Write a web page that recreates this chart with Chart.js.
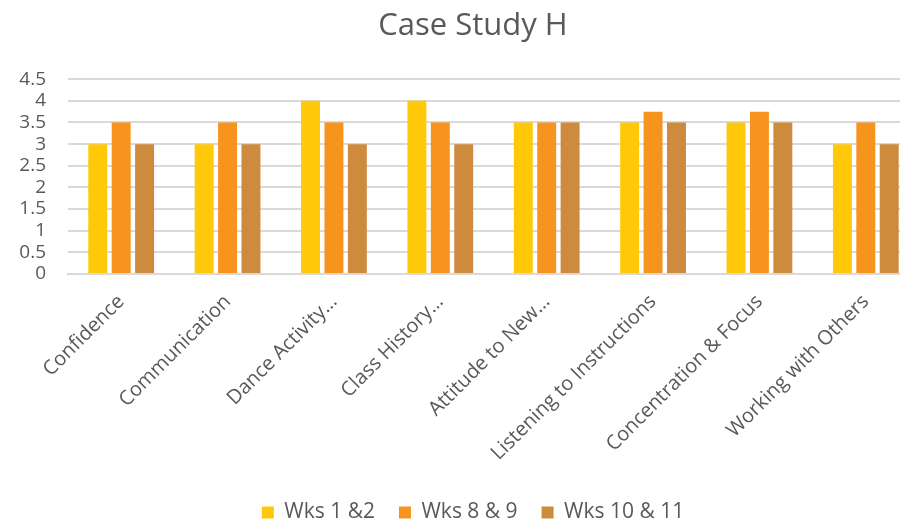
<!DOCTYPE html>
<html>
<head>
<meta charset="utf-8">
<title>Case Study H</title>
<script src="https://cdn.jsdelivr.net/npm/chart.js@4.4.1/dist/chart.umd.min.js"></script>
<style>
  html, body { margin: 0; padding: 0; background: #fff; overflow: hidden; }
  #wrap { width: 900px; height: 522px; overflow: hidden; position: relative; }
  canvas { display: block; }
</style>
</head>
<body>
<div id="wrap">
  <canvas id="chart" width="946" height="533"></canvas>
</div>
<script>
// categories and series
const categories = [
    'Confidence',
    'Communication',
    'Dance Activity\u2026',
    'Class History\u2026',
    'Attitude to New\u2026',
    'Listening to Instructions',
    'Concentration & Focus',
    'Working with Others'
];
const wks1and2 = [3, 3, 4, 4, 3.5, 3.5, 3.5, 3];
const wks8and9 = [3.5, 3.5, 3.5, 3.5, 3.5, 3.75, 3.75, 3.5];
const wks10and11 = [3, 3, 3, 3, 3.5, 3.5, 3.5, 3];
const seriesNames = ['Wks 1 &2', 'Wks 8 & 9', 'Wks 10 & 11'];
const yMax = 4.5;
const yStep = 0.5;

const textColor = '#595959';
const gridColor = '#d9d9d9';
const fontFamily = '"Open Sans", "DejaVu Sans", sans-serif';

const ctx = document.getElementById('chart').getContext('2d');

// the y labels sit partly in the left padding, so widen the axis clip box to the canvas edge
const widenYAxis = {
    id: 'widenYAxis',
    afterLayout(chart) {
        chart.scales.y.left = 0;
    }
};

new Chart(ctx, {
    type: 'bar',
    data: {
        labels: categories,
        datasets: [
            { label: seriesNames[0], data: wks1and2, backgroundColor: '#ffc90a' },
            { label: seriesNames[1], data: wks8and9, backgroundColor: '#f7941e' },
            { label: seriesNames[2], data: wks10and11, backgroundColor: '#ce8b3e' }
        ]
    },
    plugins: [widenYAxis],
    options: {
        responsive: false,
        animation: false,
        datasets: {
            bar: { categoryPercentage: 0.66, barPercentage: 0.81 }
        },
        layout: { padding: { left: 27, right: 27, top: 0, bottom: 0 } },
        plugins: {
            title: {
                display: true,
                text: 'Case Study H',
                color: textColor,
                font: { family: fontFamily, size: 31, weight: 'normal' },
                padding: { top: 8, bottom: 34 }
            },
            legend: {
                position: 'bottom',
                labels: {
                    color: textColor,
                    font: { family: fontFamily, size: 21 },
                    boxWidth: 12,
                    boxHeight: 12,
                    padding: 24
                }
            },
            tooltip: { enabled: false }
        },
        scales: {
            x: {
                grid: { display: false },
                border: { color: gridColor, width: 2 },
                ticks: {
                    color: textColor,
                    font: { family: fontFamily, size: 20 },
                    autoSkip: false,
                    maxRotation: 45,
                    minRotation: 45,
                    padding: 8
                },
                afterFit: (scale) => { scale.height = 204; }
            },
            y: {
                min: 0,
                max: yMax,
                grid: { color: gridColor, lineWidth: 2, drawTicks: false },
                border: { display: false },
                ticks: {
                    stepSize: yStep,
                    autoSkip: false,
                    color: textColor,
                    font: { family: fontFamily, size: 19 },
                    padding: 22,
                    callback: (value) => String(value)
                },
                afterFit: (scale) => { scale.width = 41; }
            }
        }
    }
});
</script>
</body>
</html>
